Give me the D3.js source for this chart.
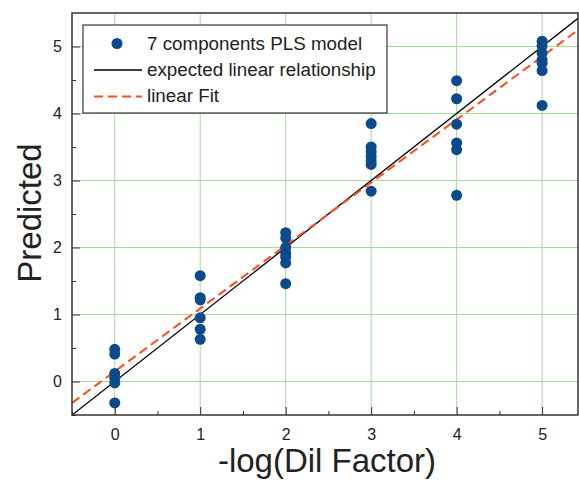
<!DOCTYPE html>
<html>
<head>
<meta charset="utf-8">
<script src="https://cdn.jsdelivr.net/npm/d3@7"></script>
<style>
  body { margin: 0; background: #fff; }
  text { font-family: "Liberation Sans", Arial, sans-serif; fill: #222; }
</style>
</head>
<body>
<div class="canvas"></div>
<script>
// data: dilution level and predicted values
const levels = [0, 1, 2, 3, 4, 5];
const predicted = [
  [0.48, 0.41, 0.12, 0.05, -0.02, -0.32],
  [1.58, 1.25, 1.22, 0.95, 0.78, 0.63],
  [2.22, 2.14, 2.0, 1.92, 1.86, 1.77, 1.46],
  [3.85, 3.5, 3.43, 3.36, 3.29, 3.24, 2.84],
  [4.49, 4.22, 3.84, 3.56, 3.46, 2.78],
  [5.08, 5.01, 4.9, 4.8, 4.75, 4.64, 4.12]
];
const fitSlope = 0.94;
const fitIntercept = 0.15;
const xTicks = [0, 1, 2, 3, 4, 5];
const yTicks = [0, 1, 2, 3, 4, 5];
const legendLabels = ['7 components PLS model', 'expected linear relationship', 'linear Fit'];

const points = [];
levels.forEach((lv, i) => predicted[i].forEach(v => points.push({ x: lv, y: v })));

const margin = { top: 13, right: 1, bottom: 66, left: 72 };
const width = 579 - margin.left - margin.right;
const height = 481 - margin.top - margin.bottom;

const svg = d3.select('.canvas')
  .append('svg')
   .attr('width', 579)
   .attr('height', 481);

const graph = svg.append('g')
  .attr('transform', `translate(${margin.left}, ${margin.top})`);

const x = d3.scaleLinear().domain([-0.5, 5.42]).range([0, width]);
const y = d3.scaleLinear().domain([-0.5, 5.5]).range([height, 0]);

graph.append('clipPath').attr('id', 'clip')
  .append('rect').attr('width', width).attr('height', height);

//grid lines
graph.append('g').selectAll('line.gx')
  .data(xTicks).enter().append('line')
   .attr('x1', d => x(d)).attr('x2', d => x(d))
   .attr('y1', 0).attr('y2', height)
   .attr('stroke', '#a6dba0').attr('stroke-width', 1);
graph.append('g').selectAll('line.gy')
  .data(yTicks).enter().append('line')
   .attr('x1', 0).attr('x2', width)
   .attr('y1', d => y(d)).attr('y2', d => y(d))
   .attr('stroke', '#a6dba0').attr('stroke-width', 1);

const lines = graph.append('g').attr('clip-path', 'url(#clip)');
const line = d3.line().x(d => x(d[0])).y(d => y(d[1]));
const xs = x.domain();

//expected y = x
lines.append('path')
  .attr('d', line(xs.map(v => [v, v])))
  .attr('stroke', '#000').attr('stroke-width', 1.3).attr('fill', 'none');

//linear fit
lines.append('path')
  .attr('d', line(xs.map(v => [v, fitIntercept + fitSlope * v])))
  .attr('stroke', '#ff4a1c').attr('stroke-width', 2)
  .attr('stroke-dasharray', '9,5').attr('fill', 'none');

graph.append('g').selectAll('circle')
  .data(points).enter().append('circle')
   .attr('cx', d => x(d.x))
   .attr('cy', d => y(d.y))
   .attr('r', 5.5)
   .attr('fill', '#0b4a8c');

//axes with inward ticks
const xAxis = d3.axisBottom(x).tickValues(xTicks).tickFormat(d3.format('d'))
  .tickSizeInner(-8).tickSizeOuter(0).tickPadding(14);
const yAxis = d3.axisLeft(y).tickValues(yTicks).tickFormat(d3.format('d'))
  .tickSizeInner(-8).tickSizeOuter(0).tickPadding(10);
const xMinor = d3.axisBottom(x).tickValues(d3.range(-0.5, 5.5, 1)).tickSize(-4).tickFormat('');
const yMinor = d3.axisLeft(y).tickValues(d3.range(-0.5, 5.5, 1)).tickSize(-4).tickFormat('');

const xAxisGroup = graph.append('g').attr('transform', `translate(0, ${height})`).call(xAxis);
graph.append('g').attr('transform', `translate(0, ${height})`).call(xMinor);
const yAxisGroup = graph.append('g').call(yAxis);
graph.append('g').call(yMinor);

graph.selectAll('.domain').remove();
graph.selectAll('.tick line').attr('stroke', '#333');
xAxisGroup.selectAll('text').style('font-size', '16px').attr('fill', '#222');
yAxisGroup.selectAll('text').style('font-size', '16px').attr('fill', '#222');

//frame
graph.append('rect')
  .attr('width', width).attr('height', height)
  .attr('fill', 'none').attr('stroke', '#333').attr('stroke-width', 1.5);

//legend
const legend = svg.append('g').attr('transform', 'translate(83, 25)');
legend.append('rect')
  .attr('width', 304).attr('height', 88)
  .attr('fill', '#fff').attr('stroke', '#111').attr('stroke-width', 1);
legend.append('circle').attr('cx', 34).attr('cy', 18.5).attr('r', 5.5).attr('fill', '#0b4a8c');
legend.append('line').attr('x1', 11).attr('x2', 59).attr('y1', 45).attr('y2', 45)
  .attr('stroke', '#000').attr('stroke-width', 1.3);
legend.append('line').attr('x1', 11).attr('x2', 59).attr('y1', 71.5).attr('y2', 71.5)
  .attr('stroke', '#ff4a1c').attr('stroke-width', 2).attr('stroke-dasharray', '9,5');
legend.selectAll('text.lg')
  .data(legendLabels).enter().append('text')
   .attr('x', 64)
   .attr('y', (d, i) => 25 + i * 26)
   .style('font-size', '18.8px')
   .text(d => d);

//axis titles
svg.append('text')
  .attr('x', 327).attr('y', 472)
  .attr('text-anchor', 'middle')
  .style('font-size', '33px')
  .text('-log(Dil Factor)');

svg.append('text')
  .attr('transform', 'translate(41, 213) rotate(-90)')
  .attr('text-anchor', 'middle')
  .style('font-size', '33px')
  .text('Predicted');
</script>
</body>
</html>
